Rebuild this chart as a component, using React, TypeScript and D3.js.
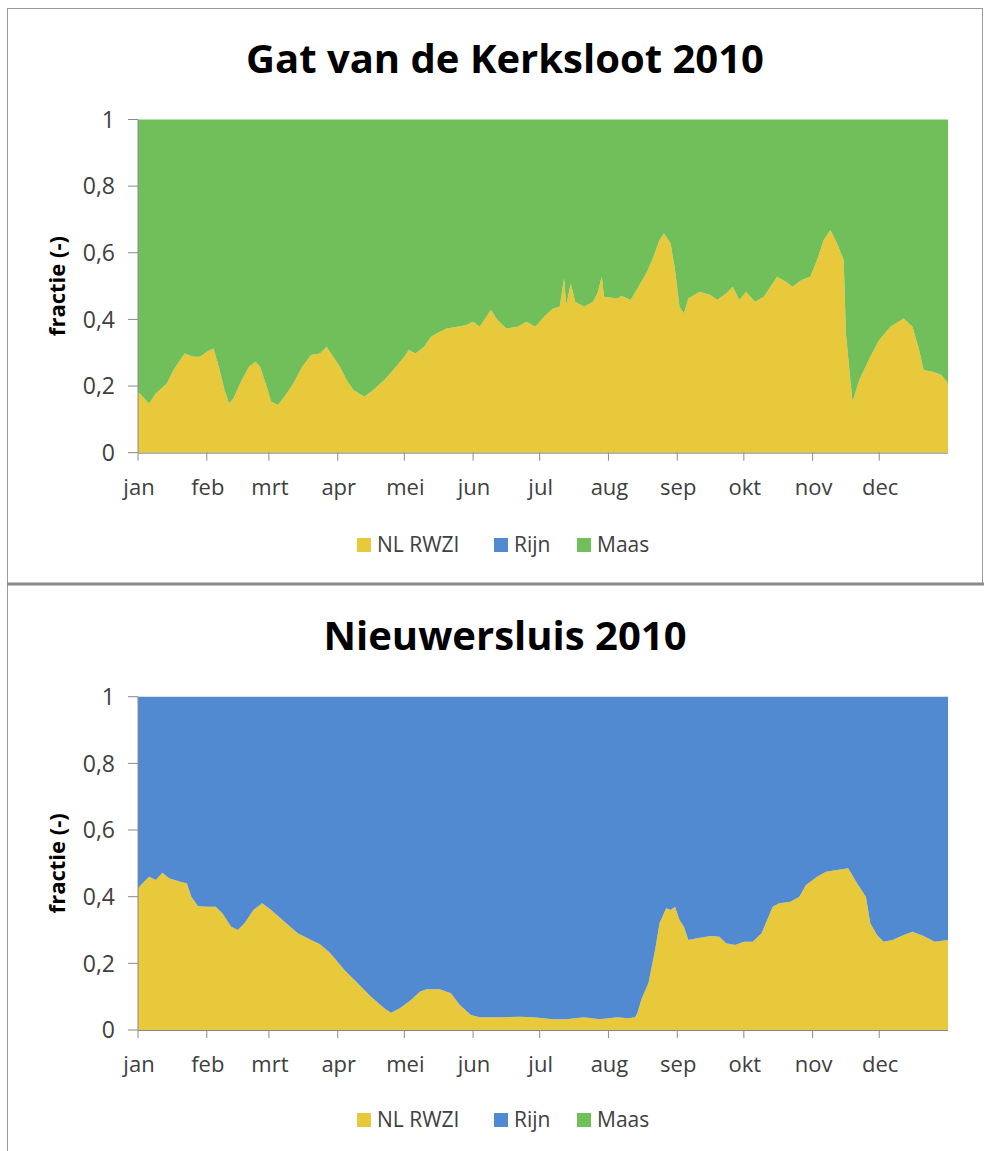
import React from "react";
import * as d3 from "d3";

// ---------- data ----------
const monthLabels = ["jan", "feb", "mrt", "apr", "mei", "jun", "jul", "aug", "sep", "okt", "nov", "dec"];
const yTicks = [0, 0.2, 0.4, 0.6, 0.8, 1];
const yTickLabels = ["0", "0,2", "0,4", "0,6", "0,8", "1"];
const seriesNames = ["NL RWZI", "Rijn", "Maas"];
const seriesColors = ["#E8C93B", "#528AD1", "#70BF5A"];

// Gat van de Kerksloot 2010 (day of year)
const kerkDays = [0, 5, 8, 13, 16, 19, 21, 25, 28, 31, 34, 36, 39, 41, 43, 46, 50, 53, 55, 58, 60, 63, 66, 70, 74, 78, 82, 85, 88, 91, 94, 97, 102, 106, 111, 115, 120, 122, 125, 129, 132, 136, 139, 144, 148, 151, 154, 159, 162, 166, 171, 175, 179, 183, 187, 190, 192, 193, 195, 197, 201, 205, 207, 209, 210, 216, 218, 222, 226, 229, 232, 235, 237, 240, 242, 244, 246, 248, 253, 258, 261, 265, 268, 271, 274, 278, 282, 288, 292, 295, 299, 303, 306, 309, 312, 315, 318, 319, 321, 322, 325, 330, 334, 339, 345, 349, 352, 354, 358, 362, 365];
const kerkRwzi = [0.183, 0.148, 0.178, 0.208, 0.248, 0.278, 0.298, 0.288, 0.288, 0.303, 0.313, 0.268, 0.188, 0.148, 0.163, 0.208, 0.258, 0.273, 0.258, 0.198, 0.153, 0.143, 0.168, 0.208, 0.258, 0.293, 0.298, 0.318, 0.288, 0.258, 0.218, 0.188, 0.168, 0.188, 0.218, 0.248, 0.288, 0.308, 0.298, 0.318, 0.348, 0.363, 0.373, 0.378, 0.383, 0.393, 0.378, 0.428, 0.398, 0.373, 0.378, 0.393, 0.378, 0.408, 0.433, 0.438, 0.523, 0.443, 0.508, 0.453, 0.438, 0.453, 0.478, 0.528, 0.468, 0.463, 0.470, 0.458, 0.503, 0.538, 0.583, 0.638, 0.658, 0.628, 0.548, 0.438, 0.418, 0.463, 0.483, 0.473, 0.458, 0.478, 0.498, 0.458, 0.483, 0.453, 0.468, 0.528, 0.513, 0.498, 0.518, 0.528, 0.578, 0.638, 0.668, 0.628, 0.578, 0.358, 0.218, 0.153, 0.218, 0.288, 0.338, 0.378, 0.403, 0.378, 0.308, 0.248, 0.243, 0.233, 0.208];
const kerkRijn = [0, 0, 0, 0, 0, 0, 0, 0, 0, 0, 0, 0, 0, 0, 0, 0, 0, 0, 0, 0, 0, 0, 0, 0, 0, 0, 0, 0, 0, 0, 0, 0, 0, 0, 0, 0, 0, 0, 0, 0, 0, 0, 0, 0, 0, 0, 0, 0, 0, 0, 0, 0, 0, 0, 0, 0, 0, 0, 0, 0, 0, 0, 0, 0, 0, 0, 0, 0, 0, 0, 0, 0, 0, 0, 0, 0, 0, 0, 0, 0, 0, 0, 0, 0, 0, 0, 0, 0, 0, 0, 0, 0, 0, 0, 0, 0, 0, 0, 0, 0, 0, 0, 0, 0, 0, 0, 0, 0, 0, 0, 0];
const kerkMaas = [0.817, 0.852, 0.822, 0.792, 0.752, 0.722, 0.702, 0.712, 0.712, 0.697, 0.687, 0.732, 0.812, 0.852, 0.837, 0.792, 0.742, 0.727, 0.742, 0.802, 0.847, 0.857, 0.832, 0.792, 0.742, 0.707, 0.702, 0.682, 0.712, 0.742, 0.782, 0.812, 0.832, 0.812, 0.782, 0.752, 0.712, 0.692, 0.702, 0.682, 0.652, 0.637, 0.627, 0.622, 0.617, 0.607, 0.622, 0.572, 0.602, 0.627, 0.622, 0.607, 0.622, 0.592, 0.567, 0.562, 0.477, 0.557, 0.492, 0.547, 0.562, 0.547, 0.522, 0.472, 0.532, 0.537, 0.530, 0.542, 0.497, 0.462, 0.417, 0.362, 0.342, 0.372, 0.452, 0.562, 0.582, 0.537, 0.517, 0.527, 0.542, 0.522, 0.502, 0.542, 0.517, 0.547, 0.532, 0.472, 0.487, 0.502, 0.482, 0.472, 0.422, 0.362, 0.332, 0.372, 0.422, 0.642, 0.782, 0.847, 0.782, 0.712, 0.662, 0.622, 0.597, 0.622, 0.692, 0.752, 0.757, 0.767, 0.792];

// Nieuwersluis 2010 (day of year)
const nieuDays = [0, 2, 5, 8, 11, 14, 19, 22, 24, 27, 31, 35, 38, 42, 45, 48, 52, 56, 60, 66, 72, 78, 82, 86, 88, 93, 99, 105, 111, 114, 118, 123, 127, 130, 136, 141, 145, 150, 154, 163, 172, 178, 187, 193, 201, 208, 216, 221, 224, 225, 227, 230, 233, 235, 238, 240, 242, 244, 246, 248, 252, 258, 262, 265, 269, 273, 277, 281, 286, 289, 294, 298, 301, 306, 310, 315, 320, 324, 328, 330, 333, 336, 340, 345, 349, 354, 359, 365];
const nieuRwzi = [0.425, 0.44, 0.46, 0.45, 0.472, 0.455, 0.445, 0.44, 0.40, 0.372, 0.37, 0.37, 0.35, 0.31, 0.30, 0.32, 0.36, 0.38, 0.36, 0.325, 0.29, 0.27, 0.257, 0.235, 0.22, 0.18, 0.14, 0.10, 0.065, 0.052, 0.065, 0.09, 0.115, 0.122, 0.122, 0.11, 0.075, 0.045, 0.038, 0.038, 0.04, 0.038, 0.032, 0.032, 0.038, 0.032, 0.038, 0.035, 0.038, 0.05, 0.095, 0.14, 0.24, 0.32, 0.365, 0.36, 0.37, 0.33, 0.31, 0.27, 0.275, 0.282, 0.28, 0.26, 0.255, 0.265, 0.265, 0.29, 0.37, 0.38, 0.385, 0.40, 0.435, 0.46, 0.475, 0.48, 0.485, 0.44, 0.40, 0.32, 0.285, 0.265, 0.27, 0.285, 0.295, 0.282, 0.265, 0.27];
const nieuRijn = [0.575, 0.56, 0.54, 0.55, 0.528, 0.545, 0.555, 0.56, 0.60, 0.628, 0.63, 0.63, 0.65, 0.69, 0.70, 0.68, 0.64, 0.62, 0.64, 0.675, 0.71, 0.73, 0.743, 0.765, 0.78, 0.82, 0.86, 0.90, 0.935, 0.948, 0.935, 0.91, 0.885, 0.878, 0.878, 0.89, 0.925, 0.955, 0.962, 0.962, 0.96, 0.962, 0.968, 0.968, 0.962, 0.968, 0.962, 0.965, 0.962, 0.95, 0.905, 0.86, 0.76, 0.68, 0.635, 0.64, 0.63, 0.67, 0.69, 0.73, 0.725, 0.718, 0.72, 0.74, 0.745, 0.735, 0.735, 0.71, 0.63, 0.62, 0.615, 0.60, 0.565, 0.54, 0.525, 0.52, 0.515, 0.56, 0.60, 0.68, 0.715, 0.735, 0.73, 0.715, 0.705, 0.718, 0.735, 0.73];
const nieuMaas = [0, 0, 0, 0, 0, 0, 0, 0, 0, 0, 0, 0, 0, 0, 0, 0, 0, 0, 0, 0, 0, 0, 0, 0, 0, 0, 0, 0, 0, 0, 0, 0, 0, 0, 0, 0, 0, 0, 0, 0, 0, 0, 0, 0, 0, 0, 0, 0, 0, 0, 0, 0, 0, 0, 0, 0, 0, 0, 0, 0, 0, 0, 0, 0, 0, 0, 0, 0, 0, 0, 0, 0, 0, 0, 0, 0, 0, 0, 0, 0, 0, 0, 0, 0, 0, 0, 0, 0];

// ---------- layout ----------
const W = 984;
const H = 1151;
const FONT = "'Open Sans', 'Liberation Sans', sans-serif";
const PLOT_LEFT = 138;
const PLOT_RIGHT = 948;

type ChartProps = {
  title: string;
  days: number[];
  rwzi: number[];
  rijn: number[];
  maas: number[];
  top: number; // y of value 1
  bottom: number; // y of value 0
  titleY: number;
  labelY: number;
  legendY: number;
};

const dayToDate = (d: number) => new Date(Date.UTC(2010, 0, 1) + d * 86400000);

function Chart({ title, days, rwzi, rijn, maas, top, bottom, titleY, labelY, legendY }: ChartProps) {
  const x = d3.scaleUtc().domain([new Date(Date.UTC(2010, 0, 1)), new Date(Date.UTC(2011, 0, 1))]).range([PLOT_LEFT, PLOT_RIGHT]);
  const y = d3.scaleLinear().domain([0, 1]).range([bottom, top]);
  const rows = days.map((d, i) => ({ date: dayToDate(d), rwzi: rwzi[i], rijn: rijn[i], maas: maas[i] }));
  const keys = ["rwzi", "rijn", "maas"];
  const stacked = d3.stack<any>().keys(keys)(rows);
  const area = d3
    .area<any>()
    .x((p) => x(p.data.date))
    .y0((p) => y(p[0]))
    .y1((p) => y(p[1]));
  const months = d3.utcMonth.range(new Date(Date.UTC(2010, 0, 1)), new Date(Date.UTC(2011, 0, 1)));
  const legendX = [357, 494, 577];
  return (
    <g>
      <text x={505} y={titleY} textAnchor="middle" fontFamily={FONT} fontWeight={700} fontSize={40} fill="#000">
        {title}
      </text>
      {stacked.map((s, i) => (
        <path key={i} d={area(s) || ""} fill={seriesColors[i]} />
      ))}
      {/* axes */}
      <line x1={PLOT_LEFT} x2={PLOT_LEFT} y1={top} y2={bottom} stroke="#8a8a8a" strokeWidth={1} />
      <line x1={PLOT_LEFT} x2={PLOT_RIGHT} y1={bottom + 0.5} y2={bottom + 0.5} stroke="#8a8a8a" strokeWidth={1} />
      {yTicks.map((t, i) => (
        <g key={i}>
          <line x1={PLOT_LEFT - 10} x2={PLOT_LEFT} y1={y(t)} y2={y(t)} stroke="#8a8a8a" strokeWidth={1} />
          <text x={115} y={y(t)} dy="0.36em" textAnchor="end" fontFamily={FONT} fontSize={23} fill="#404040">
            {yTickLabels[i]}
          </text>
        </g>
      ))}
      {months.map((m, i) => (
        <g key={i}>
          <line x1={x(m)} x2={x(m)} y1={bottom} y2={bottom + 8} stroke="#8a8a8a" strokeWidth={1} />
          <text x={x(m) + 1} y={labelY} textAnchor="middle" fontFamily={FONT} fontSize={22} fill="#404040">
            {monthLabels[i]}
          </text>
        </g>
      ))}
      <text
        transform={`translate(65,${(top + bottom) / 2}) rotate(-90)`}
        textAnchor="middle"
        fontFamily={FONT}
        fontWeight={700}
        fontSize={22}
        fill="#000"
      >
        fractie (-)
      </text>
      {/* legend */}
      {seriesNames.map((n, i) => (
        <g key={n}>
          <rect x={legendX[i]} y={legendY - 7} width={14} height={14} fill={seriesColors[i]} />
          <text x={legendX[i] + 20} y={legendY} dy="0.35em" fontFamily={FONT} fontSize={21} fill="#404040">
            {n}
          </text>
        </g>
      ))}
    </g>
  );
}

export default function App() {
  return (
    <svg width={W} height={H} viewBox={`0 0 ${W} ${H}`} style={{ position: "absolute", left: 0, top: 0, background: "#fff" }}>
      <rect x={0} y={0} width={W} height={H} fill="#fff" />
      {/* frame */}
      <line x1={7.5} x2={7.5} y1={8} y2={H} stroke="#9a9a9a" strokeWidth={1} />
      <line x1={7} x2={983} y1={8.5} y2={8.5} stroke="#9a9a9a" strokeWidth={1} />
      <line x1={982.5} x2={982.5} y1={8} y2={583} stroke="#9a9a9a" strokeWidth={1} />
      <line x1={7} x2={W} y1={584} y2={584} stroke="#8a8a8a" strokeWidth={3} />
      <Chart
        title="Gat van de Kerksloot 2010"
        days={kerkDays}
        rwzi={kerkRwzi}
        rijn={kerkRijn}
        maas={kerkMaas}
        top={119.5}
        bottom={452.7}
        titleY={73}
        labelY={495}
        legendY={545}
      />
      <Chart
        title="Nieuwersluis 2010"
        days={nieuDays}
        rwzi={nieuRwzi}
        rijn={nieuRijn}
        maas={nieuMaas}
        top={696.7}
        bottom={1030}
        titleY={650}
        labelY={1072}
        legendY={1120}
      />
    </svg>
  );
}
